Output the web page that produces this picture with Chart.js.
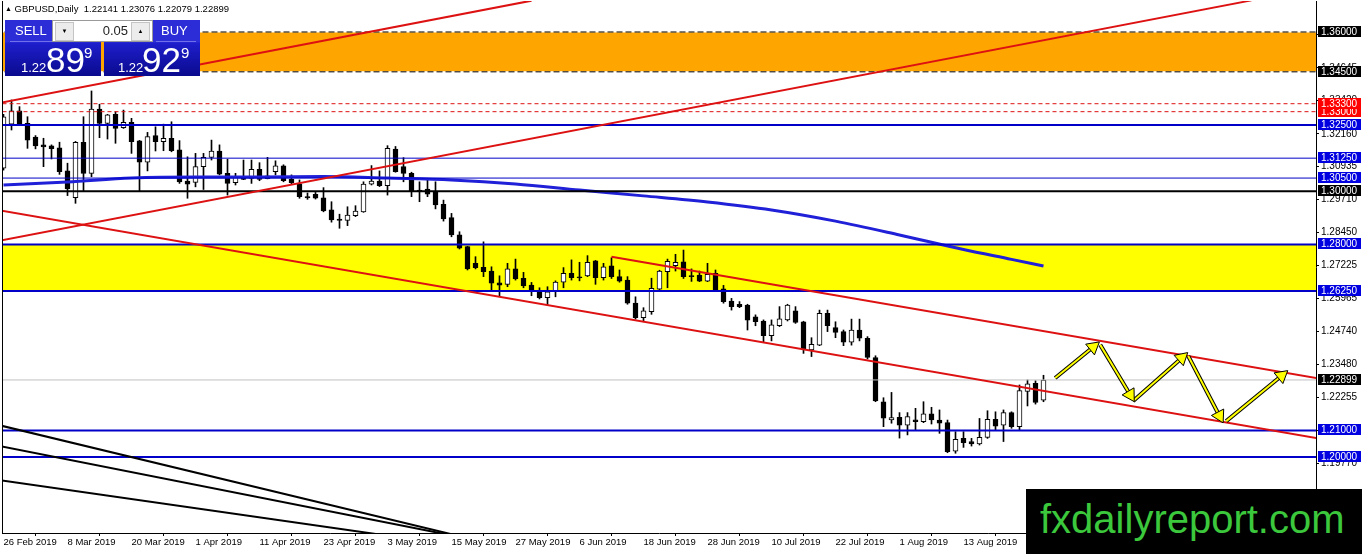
<!DOCTYPE html>
<html>
<head>
<meta charset="utf-8">
<title>GBPUSD Daily</title>
<script src="https://cdn.jsdelivr.net/npm/chart.js@4.4.1/dist/chart.umd.min.js"></script>
<style>
html, body { margin: 0; padding: 0; background: #fff; overflow: hidden; }
#wrap { position: relative; width: 1362px; height: 554px; font-family: "Liberation Sans", Arial, sans-serif; }
#c { position: absolute; left: 0; top: 0; }
#hdr { position: absolute; left: 5px; top: 3px; font-size: 9.5px; line-height: 12px; color: #000; white-space: pre; }
#hdr .tri { font-size: 7px; vertical-align: 1px; }
.box { position: absolute; top: 20px; width: 96px; height: 56px; background: linear-gradient(#2d2dd8 0px, #2d2dd8 22px, #1e1ecc 23px, #0a0a8e 56px); }
.box .lbl { position: absolute; top: 4px; font-size: 13px; line-height: 14px; color: #fff; }
.box .rule { position: absolute; top: 21px; height: 1px; background: #7070e8; }
.box .s { position: absolute; top: 41px; font-size: 13px; line-height: 13px; color: #fff; }
.box .b { position: absolute; top: 22px; font-size: 35px; line-height: 35px; color: #fff; }
.box .u { position: absolute; top: 25px; font-size: 15px; line-height: 15px; color: #fff; }
#lot { position: absolute; left: 52px; top: 20px; width: 99px; height: 20px; background: #fff; border: 1px solid #9a9a9a; }
#lot .btn { position: absolute; top: 1px; width: 17px; height: 17px; background: #ececec; border: 1px solid #c4c4c4; font-size: 6px; line-height: 17px; text-align: center; color: #000; }
#lot .val { position: absolute; right: 24px; top: 3px; font-size: 13px; line-height: 14px; color: #222; }
#wm { position: absolute; left: 1026px; top: 489px; width: 336px; height: 65px; background: #000; }
#wm span { position: absolute; left: 14px; top: 10px; font-size: 40px; line-height: 40px; color: #3cc83c; white-space: nowrap; }
</style>
</head>
<body>
<div id="wrap">
  <canvas id="c" width="1362" height="554"></canvas>
  <div id="hdr"><span class="tri">▲</span> GBPUSD,Daily  1.22141 1.23076 1.22079 1.22899</div>
  <div class="box" style="left:5px">
    <div class="lbl" style="left:10px">SELL</div>
    <div class="rule" style="left:5px;width:42px"></div>
    <div class="s" style="left:16px">1.22</div>
    <div class="b" style="left:41px">89</div>
    <div class="u" style="left:79px">9</div>
  </div>
  <div class="box" style="left:104px">
    <div class="lbl" style="left:57px">BUY</div>
    <div class="rule" style="left:52px;width:40px"></div>
    <div class="s" style="left:14px">1.22</div>
    <div class="b" style="left:38px">92</div>
    <div class="u" style="left:77px">9</div>
  </div>
  <div id="lot">
    <div class="btn" style="left:2px">▼</div>
    <div class="val">0.05</div>
    <div class="btn" style="right:2px">▲</div>
  </div>
  <div id="wm"><span>fxdailyreport.com</span></div>
</div>
<script>
// GBPUSD daily candles, 26 Feb 2019 .. 27 Aug 2019 (bar index 0..130)
const dateLabels = ["26 Feb 2019", "8 Mar 2019", "20 Mar 2019", "1 Apr 2019", "11 Apr 2019", "23 Apr 2019",
    "3 May 2019", "15 May 2019", "27 May 2019", "6 Jun 2019", "18 Jun 2019", "28 Jun 2019",
    "10 Jul 2019", "22 Jul 2019", "1 Aug 2019", "13 Aug 2019"];

const open = [
    1.3087, 1.3253, 1.3303, 1.3256, 1.3204, 1.3175, 1.3171, 1.3164, 1.3077, 1.2976,
    1.3185, 1.3068, 1.3310, 1.3256, 1.3290, 1.3240, 1.3260, 1.3190, 1.3110, 1.3210,
    1.3187, 1.3200, 1.3156, 1.3039, 1.3034, 1.3093, 1.3128, 1.3152, 1.3068, 1.3033,
    1.3055, 1.3049, 1.3083, 1.3048, 1.3074, 1.3096, 1.3045, 1.3028, 1.2980, 1.2989,
    1.2976, 1.2930, 1.2896, 1.2891, 1.2908, 1.2923, 1.3027, 1.3039, 1.3021, 1.3159,
    1.3093, 1.3068, 1.3005, 1.3009, 1.2996, 1.2951, 1.2901, 1.2836, 1.2792, 1.2729,
    1.2714, 1.2700, 1.2656, 1.2650, 1.2708, 1.2673, 1.2647, 1.2622, 1.2600, 1.2625,
    1.2658, 1.2691, 1.2678, 1.2682, 1.2738, 1.2675, 1.2720, 1.2679, 1.2666, 1.2579,
    1.2524, 1.2547, 1.2632, 1.2698, 1.2720, 1.2735, 1.2683, 1.2685, 1.2662, 1.2691,
    1.2633, 1.2587, 1.2575, 1.2572, 1.2528, 1.2512, 1.2457, 1.2494, 1.2516, 1.2550,
    1.2509, 1.2403, 1.2421, 1.2541, 1.2487, 1.2472, 1.2432, 1.2478, 1.2447, 1.2374,
    1.2208, 1.2139, 1.2149, 1.2120, 1.2140, 1.2133, 1.2162, 1.2139, 1.2129, 1.2022,
    1.2070, 1.2058, 1.2049, 1.2074, 1.2142, 1.2120, 1.2167, 1.2114, 1.2247, 1.2277,
    1.22141
];
const high = [
    1.3290, 1.3344, 1.3319, 1.3281, 1.3210, 1.3200, 1.3175, 1.3185, 1.3106, 1.3188,
    1.3281, 1.3378, 1.3328, 1.3290, 1.3300, 1.3306, 1.3275, 1.3192, 1.3222, 1.3243,
    1.3253, 1.3262, 1.3191, 1.3130, 1.3143, 1.3143, 1.3193, 1.3175, 1.3121, 1.3068,
    1.3118, 1.3118, 1.3108, 1.3128, 1.3115, 1.3100, 1.3062, 1.3043, 1.2994, 1.2996,
    1.3014, 1.2961, 1.2914, 1.2942, 1.2946, 1.3036, 1.3097, 1.3077, 1.3172, 1.3169,
    1.3127, 1.3072, 1.3036, 1.3043, 1.3036, 1.2967, 1.2917, 1.2848, 1.2793, 1.2754,
    1.2810, 1.2716, 1.2682, 1.2729, 1.2745, 1.2695, 1.2657, 1.2637, 1.2641, 1.2663,
    1.2713, 1.2742, 1.2733, 1.2758, 1.2740, 1.2729, 1.2750, 1.2704, 1.2679, 1.2603,
    1.2562, 1.2673, 1.2703, 1.2745, 1.2763, 1.2779, 1.2708, 1.2700, 1.2729, 1.2704,
    1.2646, 1.2597, 1.2585, 1.2575, 1.2535, 1.2516, 1.2516, 1.2566, 1.2575, 1.2566,
    1.2511, 1.2449, 1.2553, 1.2553, 1.2509, 1.2478, 1.2519, 1.2519, 1.2453, 1.2381,
    1.2223, 1.2243, 1.2167, 1.2167, 1.2183, 1.2208, 1.2187, 1.2177, 1.2139, 1.2095,
    1.2095, 1.2070, 1.2145, 1.2174, 1.2170, 1.2177, 1.2170, 1.2271, 1.2290, 1.2287,
    1.23076
];
const low = [
    1.3080, 1.3231, 1.3250, 1.3162, 1.3160, 1.3093, 1.3122, 1.3064, 1.2984, 1.2955,
    1.3001, 1.3055, 1.3202, 1.3197, 1.3181, 1.3237, 1.3143, 1.3001, 1.3077, 1.3152,
    1.3153, 1.3149, 1.3030, 1.2974, 1.3017, 1.3007, 1.3118, 1.3062, 1.2986, 1.3024,
    1.3044, 1.3030, 1.3040, 1.3047, 1.3062, 1.3036, 1.3028, 1.2974, 1.2970, 1.2971,
    1.2923, 1.2884, 1.2861, 1.2871, 1.2905, 1.2921, 1.3024, 1.3018, 1.2986, 1.3072,
    1.3036, 1.2980, 1.2961, 1.2980, 1.2934, 1.2888, 1.2829, 1.2783, 1.2704, 1.2708,
    1.2679, 1.2629, 1.2607, 1.2641, 1.2666, 1.2637, 1.2607, 1.2595, 1.2570, 1.2603,
    1.2637, 1.2666, 1.2663, 1.2679, 1.2650, 1.2666, 1.2672, 1.2658, 1.2575, 1.2519,
    1.2509, 1.2537, 1.2630, 1.2637, 1.2700, 1.2672, 1.2661, 1.2660, 1.2660, 1.2625,
    1.2579, 1.2553, 1.2562, 1.2478, 1.2494, 1.2434, 1.2437, 1.2491, 1.2512, 1.2503,
    1.2390, 1.2378, 1.2419, 1.2472, 1.2449, 1.2419, 1.2421, 1.2437, 1.2369, 1.2208,
    1.2114, 1.2127, 1.2071, 1.2083, 1.2099, 1.2129, 1.2124, 1.2089, 1.2016, 1.2014,
    1.2036, 1.2041, 1.2045, 1.2070, 1.2101, 1.2058, 1.2108, 1.2101, 1.2192, 1.2199,
    1.22079
];
const close = [
    1.3281, 1.3303, 1.3253, 1.3193, 1.3171, 1.3167, 1.3161, 1.3074, 1.3009, 1.3185,
    1.3068, 1.3310, 1.3256, 1.3288, 1.3237, 1.3260, 1.3187, 1.3110, 1.3206, 1.3187,
    1.3200, 1.3153, 1.3036, 1.3027, 1.3093, 1.3128, 1.3152, 1.3065, 1.3030, 1.3053,
    1.3045, 1.3083, 1.3045, 1.3058, 1.3096, 1.3040, 1.3033, 1.2980, 1.2975, 1.2974,
    1.2926, 1.2892, 1.2891, 1.2911, 1.2926, 1.3027, 1.3039, 1.3021, 1.3162, 1.3074,
    1.3068, 1.2999, 1.2999, 1.2989, 1.2949, 1.2896, 1.2836, 1.2786, 1.2708, 1.2713,
    1.2698, 1.2654, 1.2647, 1.2708, 1.2670, 1.2644, 1.2625, 1.2600, 1.2622, 1.2658,
    1.2691, 1.2675, 1.2674, 1.2733, 1.2675, 1.2716, 1.2679, 1.2662, 1.2579, 1.2524,
    1.2550, 1.2635, 1.2700, 1.2737, 1.2733, 1.2679, 1.2679, 1.2662, 1.2688, 1.2629,
    1.2585, 1.2566, 1.2566, 1.2515, 1.2509, 1.2457, 1.2497, 1.2520, 1.2572, 1.2507,
    1.2407, 1.2424, 1.2541, 1.2494, 1.2469, 1.2432, 1.2478, 1.2447, 1.2375, 1.2211,
    1.2146, 1.2148, 1.2120, 1.2152, 1.2133, 1.2162, 1.2139, 1.2127, 1.2020, 1.2066,
    1.2054, 1.2049, 1.2074, 1.2142, 1.2116, 1.2167, 1.2114, 1.2250, 1.2275, 1.2205,
    1.22899
];

// moving average at a few bars
const maIndex = [0, 8, 16, 24, 32, 40, 48, 56, 64, 72, 80, 88, 96, 104, 112, 120, 126, 130];
const maValue = [1.3024, 1.3035, 1.3050, 1.3054, 1.3054, 1.3056, 1.3050, 1.3043, 1.3028, 1.3005,
    1.2983, 1.2960, 1.2930, 1.2888, 1.2836, 1.2781, 1.2744, 1.2719];

// price axis ticks
const priceTicks = [1.35905, 1.34645, 1.33420, 1.32160, 1.30935, 1.29710, 1.28450, 1.27225,
    1.25965, 1.24740, 1.23480, 1.22255, 1.21000, 1.19770, 1.18515];

// drawn objects: zones, levels, trend lines (bar index, price)
const orangeZone = [1.345, 1.36];
const yellowZone = [1.2625, 1.28];
const redLevels = [1.330, 1.333];
const blueLevels = [1.325, 1.3125, 1.305, 1.28, 1.2625, 1.21, 1.20];
const blackLevels = [1.30];
const bidPrice = 1.22899;
const redTrends = [
    [[-1, 1.3330], [66, 1.3718]],
    [[-1, 1.2811], [156, 1.3719]],
    [[-1, 1.2931], [166, 1.2061]],
    [[76, 1.2754], [166, 1.2287]]
];
const blackTrends = [
    [[-1, 1.2123], [60, 1.1680]],
    [[-1, 1.2044], [60, 1.1681]],
    [[-1, 1.1915], [50, 1.1695]]
];
const arrows = [
    [[131.46, 1.2297], [136.21, 1.2414]],
    [[137.09, 1.2422], [140.83, 1.2234]],
    [[141.21, 1.2211], [147.28, 1.2373]],
    [[148.09, 1.2380], [151.99, 1.2155]],
    [[152.84, 1.2135], [159.76, 1.2306]]
];

const BLUE = "#0000c8";
const RED = "#dd1111";
const X_MIN = -0.1875, X_MAX = 164.0625;
const Y_MIN = 1.17137, Y_MAX = 1.37167;

const pts = seg => seg.map(([x, y]) => ({ x, y }));
const span = v => [{ x: -1, y: v }, { x: 170, y: v }];

function lineSet(data, color, width, order, extra) {
    return Object.assign({
        type: "line", data, borderColor: color, borderWidth: width,
        pointRadius: 0, fill: false, tension: 0, order, clip: 0
    }, extra || {});
}

function band(zone, color) {
    return lineSet(span(zone[1]), color, 0, 20, { fill: { value: zone[0] }, backgroundColor: color });
}

const datasets = [];

// zones in the background
datasets.push(band(orangeZone, "#ffa500"));
datasets.push(band(yellowZone, "#ffff00"));

// candles
const idx = open.map((_, i) => i);
datasets.push({
    type: "bar", order: 11, grouped: false, barThickness: 1, clip: 0,
    data: idx.map(i => ({ x: i, y: [low[i], high[i]] })),
    backgroundColor: "#000", borderWidth: 0
});
datasets.push({
    type: "bar", order: 10, grouped: false, barThickness: 5, clip: 0, minBarLength: 1,
    data: idx.map(i => ({ x: i, y: [open[i], close[i]] })),
    backgroundColor: idx.map(i => close[i] >= open[i] ? "#ffffff" : "#000000"),
    borderColor: "#000", borderWidth: 1, borderSkipped: false
});

// indicator
datasets.push(lineSet(maIndex.map((x, k) => ({ x, y: maValue[k] })), "#2020d8", 3, 8,
    { cubicInterpolationMode: "monotone" }));

// horizontal levels
orangeZone.forEach(v => {
    datasets.push(lineSet(span(v), "#ffffff", 1, 6));
    datasets.push(lineSet(span(v), "#000000", 1, 5, { borderDash: [6, 3] }));
});
redLevels.forEach(v => datasets.push(lineSet(span(v), RED, 1, 5, { borderDash: [4, 3] })));
blueLevels.forEach(v => datasets.push(lineSet(span(v), BLUE, (v === 1.3125 || v === 1.305) ? 1 : 2, 5)));
blackLevels.forEach(v => datasets.push(lineSet(span(v), "#000000", 2, 5)));
datasets.push(lineSet(span(bidPrice), "#c0c0c0", 1, 7));

// trend lines
redTrends.forEach(s => datasets.push(lineSet(pts(s), RED, 2, 4)));
blackTrends.forEach(s => datasets.push(lineSet(pts(s), "#000000", 2, 4)));

// arrows
function headAngle(ctx) {
    const d = ctx.dataset.data;
    const xs = ctx.chart.scales.x, ys = ctx.chart.scales.y;
    const dx = xs.getPixelForValue(d[1].x) - xs.getPixelForValue(d[0].x);
    const dy = ys.getPixelForValue(d[1].y) - ys.getPixelForValue(d[0].y);
    return Math.atan2(dx, -dy) * 180 / Math.PI;
}
arrows.forEach(s => {
    datasets.push(lineSet(pts(s), "#000000", 4, 2));
    datasets.push(lineSet(pts(s), "#ffff00", 2, 1, {
        pointRadius: [0, 8], pointStyle: "triangle",
        pointBackgroundColor: "#ffff00", pointBorderColor: "#000", pointBorderWidth: 1,
        pointRotation: headAngle
    }));
});

// price tags on the right axis
const tags = [];
orangeZone.forEach(v => tags.push([v, "#000000"]));
redLevels.forEach(v => tags.push([v, "#ff0000"]));
blueLevels.forEach(v => tags.push([v, "#0000e0"]));
blackLevels.forEach(v => tags.push([v, "#000000"]));
tags.push([bidPrice, "#000000"]);

const tagPlugin = {
    id: "tags",
    afterDraw(chart) {
        const { ctx, chartArea, scales: { y } } = chart;
        ctx.save();
        ctx.strokeStyle = "#000";
        ctx.lineWidth = 1;
        ctx.beginPath();
        ctx.moveTo(chartArea.left + 0.5, chartArea.top);
        ctx.lineTo(chartArea.left + 0.5, chartArea.bottom);
        ctx.stroke();
        ctx.font = '10px "Liberation Sans"';
        ctx.textBaseline = "middle";
        tags.forEach(([v, bg]) => {
            const py = Math.round(y.getPixelForValue(v));
            ctx.fillStyle = bg;
            ctx.fillRect(chartArea.right + 2, py - 6, 43, 11);
            ctx.fillStyle = "#fff";
            ctx.fillText(v.toFixed(5), chartArea.right + 5, py);
        });
        ctx.restore();
    }
};

Chart.defaults.font.family = '"Liberation Sans", Arial, sans-serif';

new Chart(document.getElementById("c").getContext("2d"), {
    type: "bar",
    data: { datasets },
    options: {
        responsive: false,
        animation: false,
        events: [],
        layout: { autoPadding: false, padding: { left: 2, top: 1, right: 0, bottom: 0 } },
        plugins: { legend: { display: false }, tooltip: { enabled: false } },
        scales: {
            x: {
                type: "linear", min: X_MIN, max: X_MAX, offset: false,
                afterBuildTicks: s => { s.ticks = dateLabels.map((_, k) => ({ value: 8 * k })); },
                afterFit: s => { s.height = 21; s.paddingLeft = 0; s.paddingRight = 0; },
                ticks: {
                    callback: v => dateLabels[Math.round(v / 8)] || "",
                    align: "start", maxRotation: 0, autoSkip: false, padding: 1,
                    color: "#000", font: { size: 9.5 }
                },
                grid: { drawOnChartArea: false, drawTicks: true, tickLength: 3, color: "#000" },
                border: { display: true, color: "#000", width: 1 }
            },
            y: {
                type: "linear", position: "right", min: Y_MIN, max: Y_MAX,
                afterBuildTicks: s => { s.ticks = priceTicks.map(v => ({ value: v })); },
                afterFit: s => { s.width = 46; s.paddingTop = 0; s.paddingBottom = 0; },
                ticks: { callback: v => v.toFixed(5), padding: 2, color: "#000", font: { size: 10 } },
                grid: { drawOnChartArea: false, drawTicks: true, tickLength: 3, color: "#000" },
                border: { display: true, color: "#000", width: 1 }
            }
        }
    },
    plugins: [tagPlugin]
});
</script>
</body>
</html>
